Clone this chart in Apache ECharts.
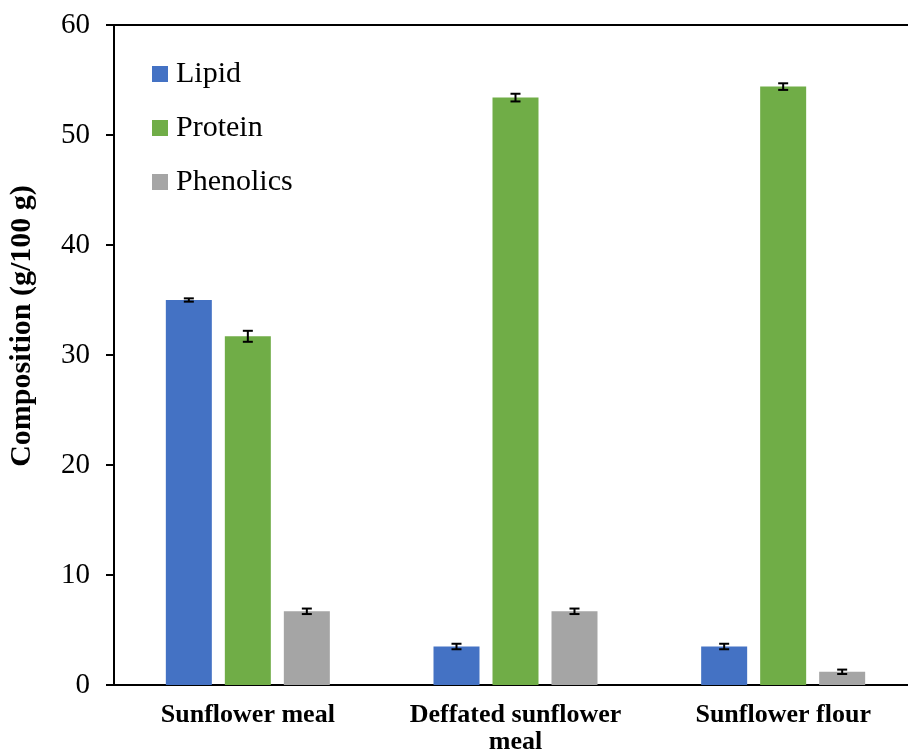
<!DOCTYPE html>
<html>
<head>
<meta charset="utf-8">
<script src="https://cdn.jsdelivr.net/npm/echarts@6/dist/echarts.min.js"></script>
<style>html,body{margin:0;padding:0;background:#fff;overflow:hidden}#c{width:917px;height:756px}</style>
</head>
<body>
<div id="c"></div>
<script>
var categories = ['Sunflower meal', 'Deffated sunflower\nmeal', 'Sunflower flour'];
var seriesNames = ['Lipid', 'Protein', 'Phenolics'];
var lipid = [35.0, 3.5, 3.5];
var protein = [31.7, 53.4, 54.4];
var phenolics = [6.7, 6.7, 1.2];
var lipidErr = [0.15, 0.25, 0.25];
var proteinErr = [0.5, 0.35, 0.3];
var phenolicsErr = [0.25, 0.25, 0.2];
var yTicks = [0, 10, 20, 30, 40, 50, 60];
var yTitle = 'Composition (g/100 g)';
var colors = ['#4472C4', '#70AD47', '#A5A5A5'];

var values = [lipid, protein, phenolics];
var errs = [lipidErr, proteinErr, phenolicsErr];
var BAR_W = 46, GAP = 13;
var FONT = '"Liberation Serif", "Times New Roman", serif';

var chart = echarts.init(document.getElementById('c'), null, {renderer: 'canvas'});

var series = [];
seriesNames.forEach(function (name, i) {
  series.push({
    name: name, type: 'bar', data: values[i], barWidth: BAR_W, barGap: (GAP / BAR_W * 100) + '%',
    itemStyle: {color: colors[i]}
  });
});
seriesNames.forEach(function (name, i) {
  var d = values[i].map(function (v, k) { return [k, v, errs[i][k]]; });
  series.push({
    type: 'custom', data: d, z: 10, silent: true,
    renderItem: function (params, api) {
      var k = api.value(0), v = api.value(1), e = api.value(2);
      var off = (i - 1) * (BAR_W + GAP);
      var hi = api.coord([k, v + e]);
      var lo = api.coord([k, v - e]);
      var x = hi[0] + off;
      var cap = 5;
      var st = {stroke: '#000', lineWidth: 2};
      return {type: 'group', children: [
        {type: 'line', shape: {x1: x, y1: hi[1], x2: x, y2: lo[1]}, style: st},
        {type: 'line', shape: {x1: x - cap, y1: hi[1], x2: x + cap, y2: hi[1]}, style: st},
        {type: 'line', shape: {x1: x - cap, y1: lo[1], x2: x + cap, y2: lo[1]}, style: st}
      ]};
    }
  });
});

chart.setOption({
  animation: false,
  backgroundColor: '#fff',
  grid: {left: 114, right: 0, top: 25, bottom: 67, containLabel: false},
  legend: {
    data: seriesNames, orient: 'vertical', left: 147, top: 54,
    itemWidth: 16, itemHeight: 16, itemGap: 24, icon: 'rect',
    textStyle: {fontFamily: FONT, fontSize: 30, color: '#000', padding: [0, 0, 0, 3]}
  },
  graphic: [{
    type: 'text', x: 22, y: 326, rotation: Math.PI / 2,
    style: {text: yTitle, font: 'bold 30px ' + FONT, fill: '#000', align: 'center', verticalAlign: 'middle'}
  }],
  xAxis: {
    type: 'category', data: categories,
    axisLine: {lineStyle: {color: '#000', width: 2}},
    axisTick: {show: false},
    axisLabel: {interval: 0, hideOverlap: false, fontFamily: FONT, fontSize: 26, fontWeight: 'bold', color: '#000', margin: 17, lineHeight: 27}
  },
  yAxis: {
    type: 'value', min: yTicks[0], max: yTicks[yTicks.length - 1], interval: 10,
    axisLine: {show: true, lineStyle: {color: '#000', width: 2}},
    axisTick: {show: true, length: 8, lineStyle: {color: '#000', width: 2}},
    axisLabel: {fontFamily: FONT, fontSize: 29, color: '#000', margin: 24},
    splitLine: {show: true, lineStyle: {color: ['transparent', 'transparent', 'transparent', 'transparent', 'transparent', 'transparent', '#000'], width: 2}}
  },
  series: series
});
</script>
</body>
</html>
